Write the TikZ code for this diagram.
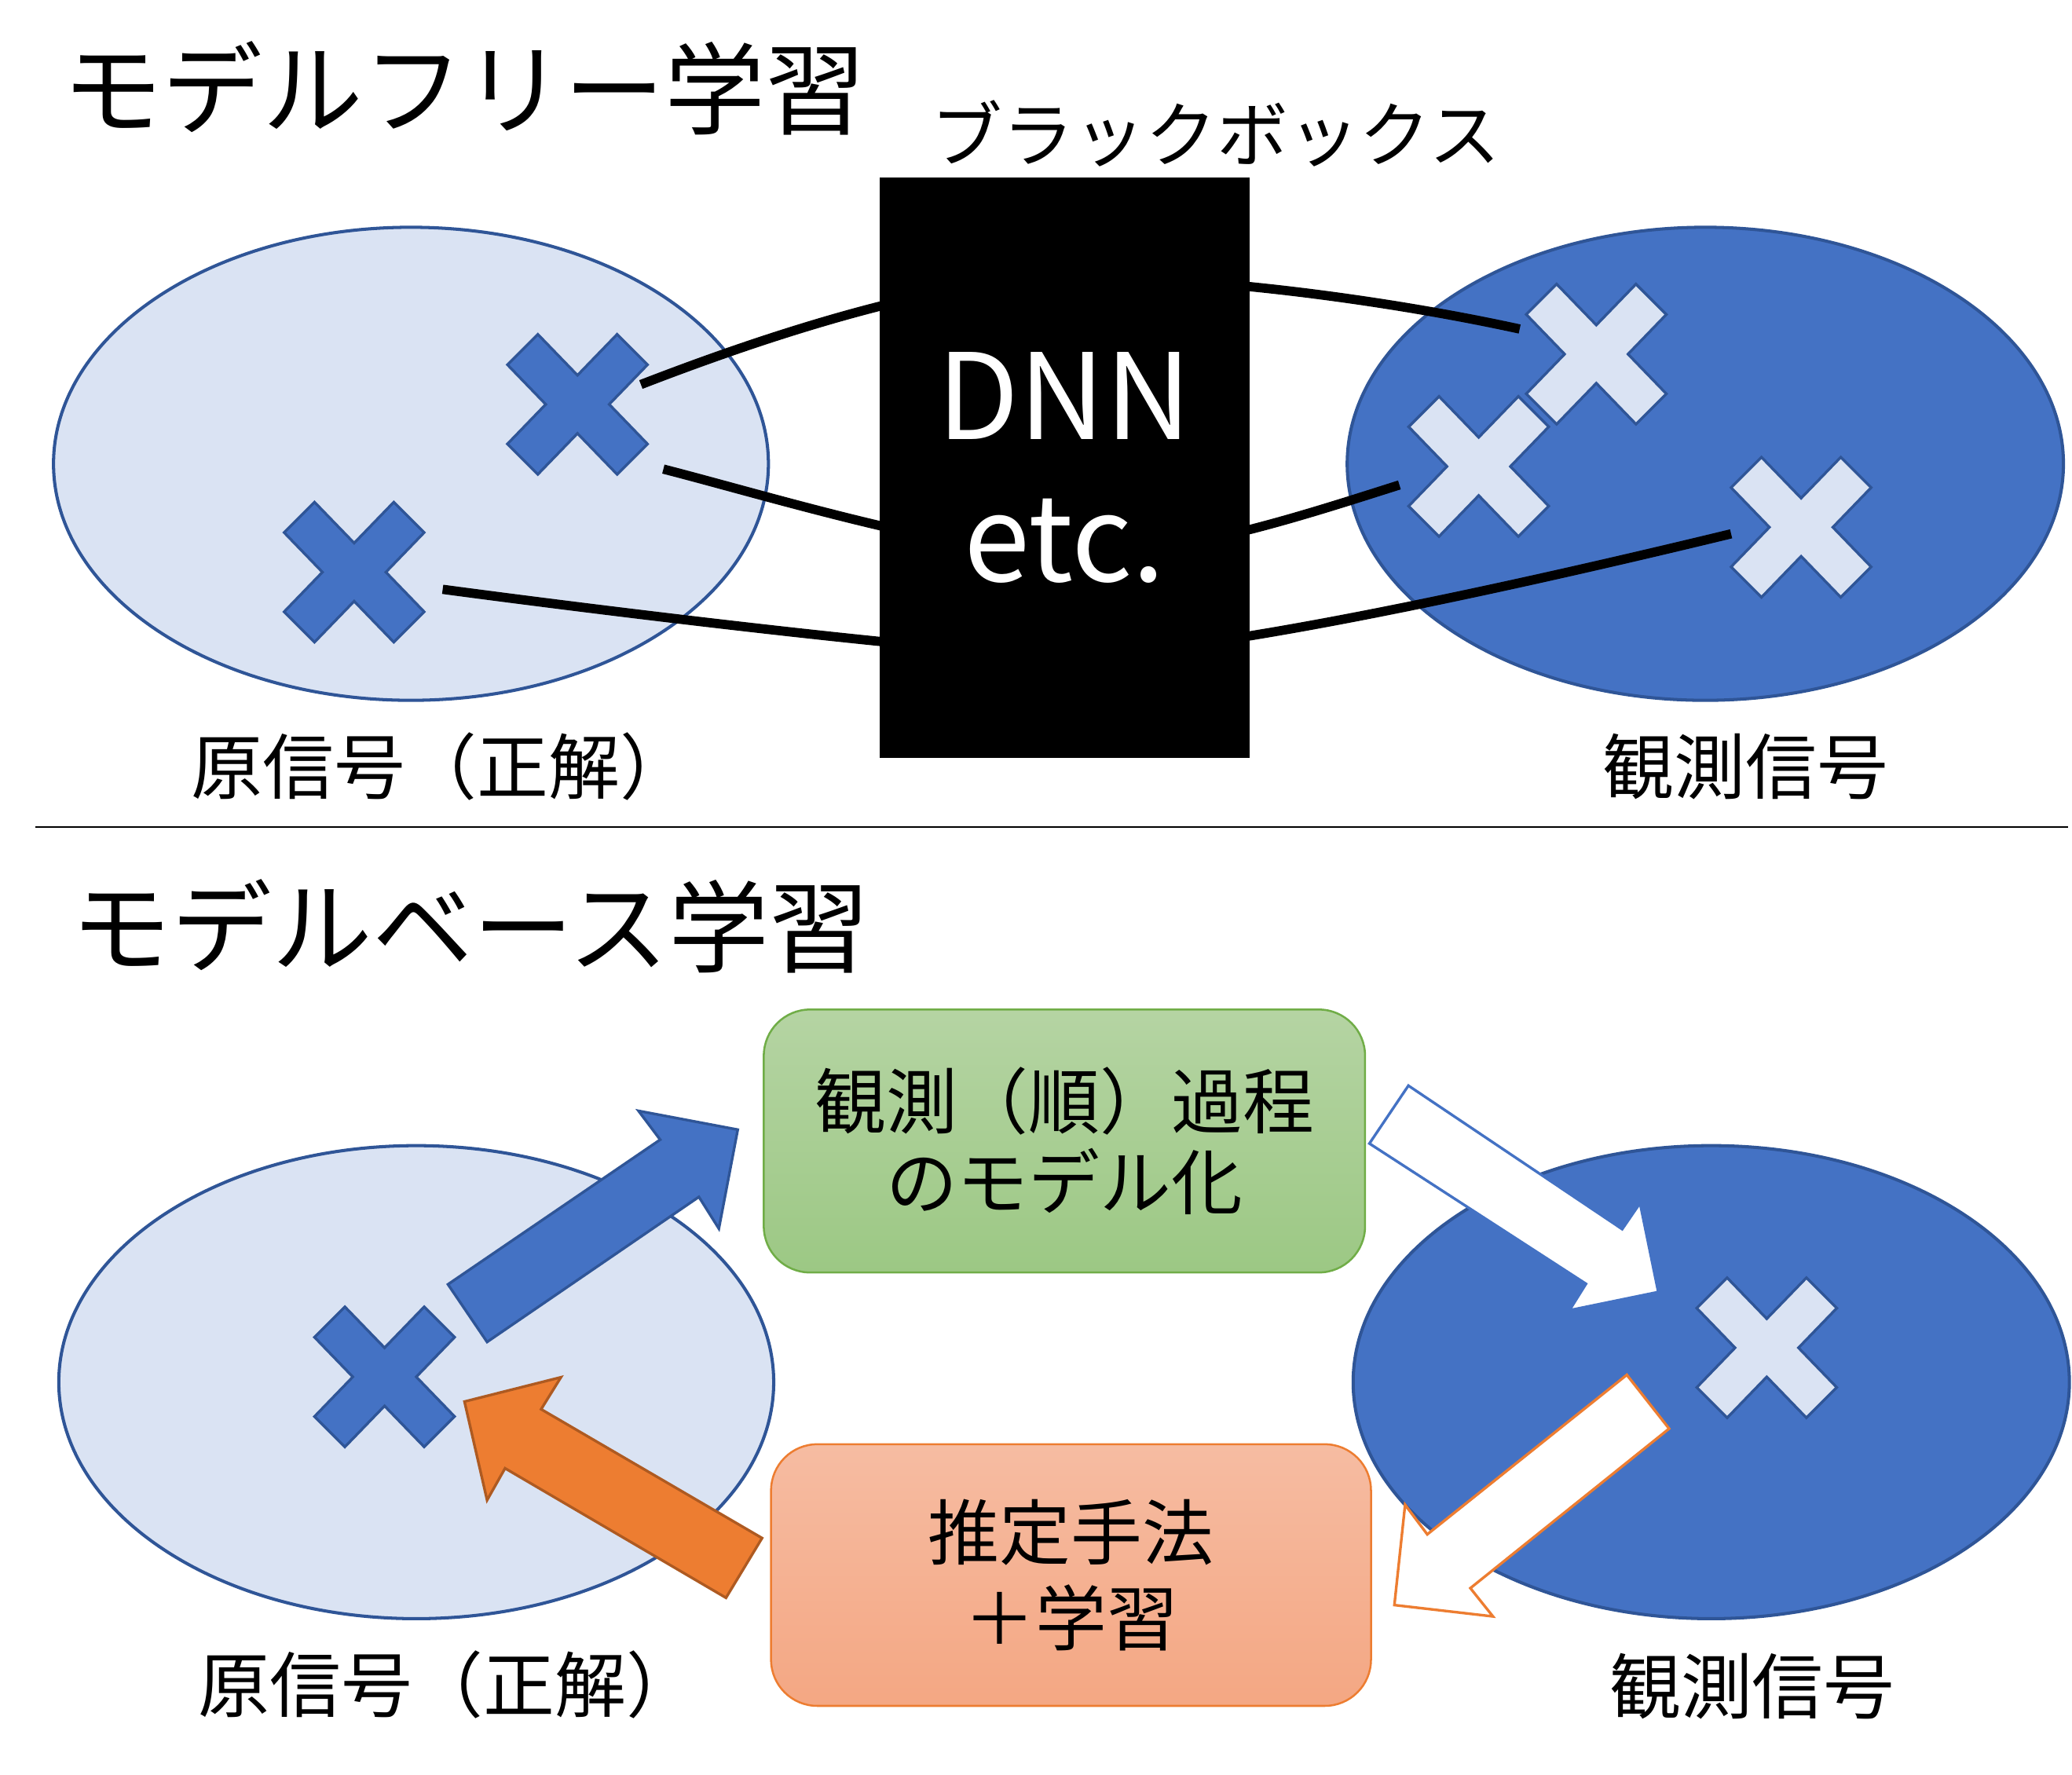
\documentclass[tikz,border=0pt]{standalone}
\usepackage{fontspec}
\setmainfont{Noto Sans CJK JP}
\usetikzlibrary{shapes.geometric}
\definecolor{lblue}{HTML}{DAE3F3}
\definecolor{dblue}{HTML}{2F5597}
\definecolor{mblue}{HTML}{4472C4}
\definecolor{orng}{HTML}{ED7D31}
\definecolor{dorng}{HTML}{AE5A21}
\definecolor{grn}{HTML}{70AD47}
\definecolor{gtop}{HTML}{B5D4A3}
\definecolor{gbot}{HTML}{9CC884}
\definecolor{otop}{HTML}{F6BCA2}
\definecolor{obot}{HTML}{F4A783}
\tikzset{
  xcross/.pic={\path[pic actions] (-30,-53) -- (0,-22) -- (30,-53) -- (53,-30) -- (24,0) -- (53,30) -- (30,53) -- (0,22) -- (-30,53) -- (-53,30) -- (-24,0) -- (-53,-30) -- cycle;},
  lightell/.style={ellipse, draw=dblue, fill=lblue, line width=2.4pt, inner sep=0pt, minimum width=541pt, minimum height=358pt},
  darkell/.style={ellipse, draw=dblue, fill=mblue, line width=2.4pt, inner sep=0pt, minimum width=542pt, minimum height=358pt},
  darkx/.style={draw=dblue, fill=mblue, line width=2pt},
  lightx/.style={draw=dblue, fill=lblue, line width=2pt},
  wire/.style={line width=7pt, black},
  title/.style={font=\fontsize{76}{82}\selectfont, inner sep=0pt},
  label/.style={font=\fontsize{54}{60}\selectfont, inner sep=0pt},
  boxtext/.style={rounded corners=35pt, line width=1.5pt, inner sep=0pt, align=center},
  fatarrow/.style={line width=2pt, line join=miter}
}
\begin{document}
\begin{tikzpicture}[x=1pt,y=-1pt]
\useasboundingbox[fill=white] (0,0) rectangle (1568,1343);

% ---------- top: model-free ----------
\node[title] (t1) at (351,67) {モデルフリー学習};
\node[font=\fontsize{54}{60}\selectfont, inner sep=0pt] (bb) at (920,101) {ブラックボックス};

\node[lightell] (e1) at (311,351) {};
\node[darkell] (e2) at (1290.5,351) {};

\pic[darkx] (x1) at (437,306) {xcross};
\pic[darkx] (x2) at (268,433) {xcross};
\pic[lightx] (x3) at (1208,268) {xcross};
\pic[lightx] (x4) at (1119,353) {xcross};
\pic[lightx] (x5) at (1363,399) {xcross};

\coordinate (w1s) at (485,291);
\coordinate (w1m) at (805,210);
\coordinate (w1e) at (1150,249);
\coordinate (w2s) at (502,355);
\coordinate (w2m) at (805,420);
\coordinate (w2e) at (1059,367);
\coordinate (w3s) at (335,446);
\coordinate (w3m) at (805,496);
\coordinate (w3e) at (1310,404);
\draw[wire] (w1s) .. controls (560,262) and (700,212) .. (w1m) .. controls (900,208) and (1040,225) .. (w1e);
\draw[wire] (w2s) .. controls (580,375) and (720,418) .. (w2m) .. controls (890,422) and (980,392) .. (w2e);
\draw[wire] (w3s) .. controls (500,468) and (740,496) .. (w3m) .. controls (900,497) and (1120,450) .. (w3e);

\node[fill=black, inner sep=0pt, minimum width=280pt, minimum height=439pt, text=white, align=center,
      font=\fontsize{90}{108}\selectfont] (dnn) at (805.5,354) {DNN\\etc.};

\node[label] (l1) at (334,580) {原信号（正解）};
\node[label] (l2) at (1321,580) {観測信号};

\draw[line width=1.5pt] (27,626) coordinate (s1) -- (1565,626) coordinate (s2);

% ---------- bottom: model-based ----------
\node[title] (t2) at (356,701) {モデルベース学習};

\node[lightell] (e3) at (315,1046) {};
\node[darkell] (e4) at (1295,1046) {};

\pic[darkx] (x6) at (291,1042) {xcross};
\pic[lightx] (x7) at (1337,1020) {xcross};

\draw[fatarrow, draw=dblue, fill=mblue] (339,972) -- (368.6,1015.6) -- (528.9,905.8) -- (544,929.8) -- (558.3,854.9) -- (483.2,840.7) -- (499.6,862.5) -- cycle;
\draw[fatarrow, draw=dorng, fill=orng] (576.7,1164) -- (549.4,1209.2) -- (382.2,1111.2) -- (368.6,1135.3) -- (351.5,1060.7) -- (424.5,1042.3) -- (409.5,1066.5) -- cycle;
\draw[fatarrow, draw=mblue, fill=white] (1065.8,821.6) -- (1036.3,865.4) -- (1200.2,971.6) -- (1187.7,991.6) -- (1254.9,977.8) -- (1241.1,910.5) -- (1227.6,930.2) -- cycle;
\draw[fatarrow, draw=orng, fill=white] (1231.1,1040.5) -- (1263.1,1081.2) -- (1112.7,1201.9) -- (1129.8,1223.3) -- (1055.2,1214.7) -- (1063.3,1138.8) -- (1080.1,1161.2) -- cycle;

\node[boxtext, draw=grn, top color=gtop, bottom color=gbot, minimum width=455pt, minimum height=199pt,
      font=\fontsize{54}{61}\selectfont] (model) at (805.5,863.5) {観測（順）過程\\のモデル化};
\node[boxtext, draw=orng, top color=otop, bottom color=obot, minimum width=454pt, minimum height=198pt,
      font=\fontsize{54}{65}\selectfont] (est) at (810.5,1192) {推定手法\\＋学習};

\node[label] (l3) at (339,1275) {原信号（正解）};
\node[label] (l4) at (1326,1276) {観測信号};
\end{tikzpicture}
\end{document}
